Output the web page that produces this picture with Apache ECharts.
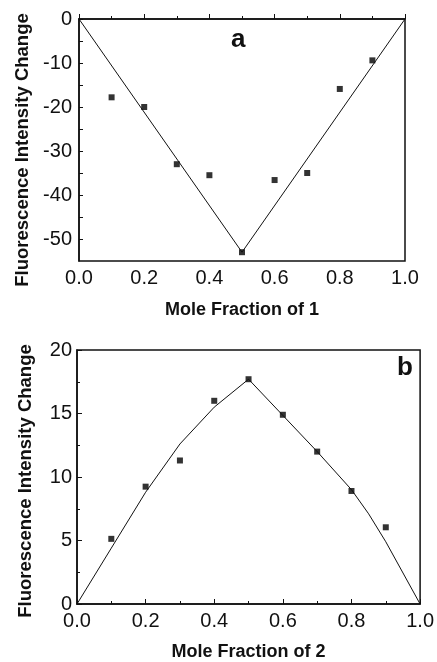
<!DOCTYPE html>
<html>
<head>
<meta charset="utf-8">
<script src="https://cdn.jsdelivr.net/npm/echarts@6/dist/echarts.min.js"></script>
<style>
  html, body { margin: 0; padding: 0; background: #fff; }
  #main { width: 437px; height: 662px; }
</style>
</head>
<body>
<div id="main"></div>
<script>
// panel a : mole fraction of 1
let fracPts = [0.1, 0.2, 0.3, 0.4, 0.5, 0.6, 0.7, 0.8, 0.9];
let changeA = [-17.8, -20, -33, -35.5, -53, -36.6, -35, -15.9, -9.4];
let fitXA = [0, 0.5, 1];
let fitYA = [0, -53, 0];
let yTicksA = [-50, -40, -30, -20, -10, 0];
let yAllTicksA = [-50, -45, -40, -35, -30, -25, -20, -15, -10, -5, 0];

// panel b : mole fraction of 2
let changeB = [5.13, 9.24, 11.3, 16.0, 17.7, 14.9, 12.0, 8.9, 6.04];
let fitXB = [0, 0.1, 0.2, 0.3, 0.4, 0.5, 0.6, 0.7, 0.8, 0.85, 0.9, 1.0];
let fitYB = [0, 4.4, 8.8, 12.6, 15.5, 17.7, 14.85, 12.0, 9.0, 7.1, 4.9, 0];

let xTicks = [0, 0.2, 0.4, 0.6, 0.8, 1.0];

let chart = echarts.init(document.getElementById('main'));
let font = "'Liberation Sans', Arial, sans-serif";
let ink = '#111';

let pairs = (xs, ys) => xs.map((x, i) => [x, ys[i]]);

function xAxisOf(grid, title, gap){
    return {
        type: 'value', gridIndex: grid, min: 0, max: 1, interval: 0.2,
        name: title, nameLocation: 'middle', nameGap: gap,
        nameTextStyle: {fontFamily: font, fontWeight: 'bold', fontSize: 18, color: ink},
        axisLine: {show: true, lineStyle: {color: ink, width: 1.5}},
        axisTick: {show: true, inside: true, length: 5, lineStyle: {color: ink, width: 1}},
        minorTick: {show: true, splitNumber: 2, length: 3, lineStyle: {color: ink, width: 1}},
        splitLine: {show: false},
        axisLabel: {
            margin: 7, fontFamily: font, fontSize: 20, color: ink,
            customValues: xTicks,
            formatter: v => v.toFixed(1)
        }
    };
}

let option = {
    animation: false,
    grid: [
        {left: 79, top: 19, width: 326, height: 242, show: true, borderColor: ink, borderWidth: 1.5},
        {left: 77, top: 350, width: 346, height: 256, show: true, borderColor: ink, borderWidth: 1.5}
    ],
    xAxis: [xAxisOf(0, 'Mole Fraction of 1', 40), xAxisOf(1, 'Mole Fraction of 2', 39)],
    yAxis: [
        {
            type: 'value', gridIndex: 0, min: -55, max: 0, position: 'left',
            name: 'Fluorescence Intensity Change', nameLocation: 'middle', nameGap: 46,
            nameTextStyle: {fontFamily: font, fontWeight: 'bold', fontSize: 18.5, color: ink, padding: [0, 20, 0, 0]},
            axisLine: {show: true, lineStyle: {color: ink, width: 1.5}},
            axisTick: {show: true, inside: true, length: 4, customValues: yAllTicksA, lineStyle: {color: ink, width: 1}},
            splitLine: {show: false},
            axisLabel: {margin: 7, fontFamily: font, fontSize: 20, color: ink, customValues: yTicksA}
        },
        {
            type: 'value', gridIndex: 1, min: 0, max: 20, interval: 5, position: 'left',
            name: 'Fluorescence Intensity Change', nameLocation: 'middle', nameGap: 42,
            nameTextStyle: {fontFamily: font, fontWeight: 'bold', fontSize: 18.5, color: ink, padding: [0, 8, 0, 0]},
            axisLine: {show: true, lineStyle: {color: ink, width: 1.5}},
            axisTick: {show: true, inside: true, length: 5, lineStyle: {color: ink, width: 1}},
            minorTick: {show: true, splitNumber: 2, length: 3, lineStyle: {color: ink, width: 1}},
            splitLine: {show: false},
            axisLabel: {margin: 5, fontFamily: font, fontSize: 20, color: ink}
        }
    ],
    graphic: [
        {type: 'text', left: 231, top: 27, style: {text: 'a', fontFamily: font, fontWeight: 'bold', fontSize: 26, fill: ink}},
        {type: 'text', left: 397, top: 355, style: {text: 'b', fontFamily: font, fontWeight: 'bold', fontSize: 26, fill: ink}}
    ],
    series: [
        {
            type: 'line', xAxisIndex: 0, yAxisIndex: 0, data: pairs(fitXA, fitYA),
            showSymbol: false, lineStyle: {color: ink, width: 1}
        },
        {
            type: 'scatter', xAxisIndex: 0, yAxisIndex: 0, data: pairs(fracPts, changeA),
            symbol: 'rect', symbolSize: 6, itemStyle: {color: '#000'}
        },
        {
            type: 'line', xAxisIndex: 1, yAxisIndex: 1, data: pairs(fitXB, fitYB),
            showSymbol: false, lineStyle: {color: ink, width: 1}
        },
        {
            type: 'scatter', xAxisIndex: 1, yAxisIndex: 1, data: pairs(fracPts, changeB),
            symbol: 'rect', symbolSize: 6, itemStyle: {color: '#000'}
        }
    ]
};

chart.setOption(option);
</script>
</body>
</html>
